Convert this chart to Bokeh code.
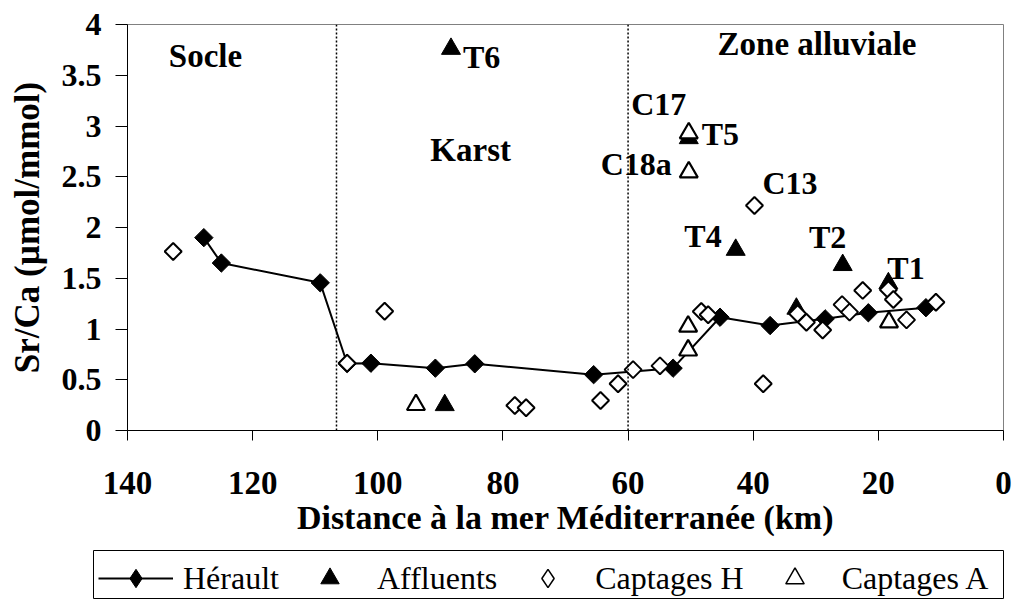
import math
from bokeh.plotting import figure
from bokeh.layouts import column, row
from bokeh.models import Range1d, FixedTicker, Span, Label, Legend, LegendItem, Spacer
from bokeh.embed import file_html
from bokeh.resources import INLINE

# ---------------- data ----------------
herault_km = [127.8, 125.0, 109.2, 104.9, 101.1, 90.8, 84.5, 65.5, 52.8, 45.3, 37.3, 28.5, 21.6, 12.4]
herault_sr = [1.90, 1.65, 1.455, 0.66, 0.663, 0.614, 0.657, 0.55, 0.614, 1.116, 1.034, 1.10, 1.16, 1.21]

affluents_km = [88.3, 89.3, 50.3, 42.8, 33.1, 25.7, 18.4]
affluents_sr = [3.76, 0.25, 2.88, 1.78, 1.20, 1.63, 1.45]

captH_km = [132.7, 104.9, 98.9, 78.1, 76.3, 64.4, 61.6, 59.2, 54.9, 48.3, 47.2, 39.8,
            38.4, 32.9, 31.5, 28.9, 25.8, 24.6, 22.5, 18.4, 17.6, 15.5, 10.8]
captH_sr = [1.764, 0.663, 1.175, 0.246, 0.224, 0.296, 0.46, 0.60, 0.637, 1.172, 1.14, 2.217,
            0.46, 1.15, 1.067, 0.99, 1.24, 1.166, 1.38, 1.386, 1.29, 1.09, 1.264]

captA_km = [93.9, 50.3, 50.3, 50.4, 50.4, 18.3]
captA_sr = [0.253, 2.93, 2.545, 1.025, 0.79, 1.067]

zone_bounds_km = [106.6, 60.0]
zone_names = ["Socle", "Karst", "Zone alluviale"]
zone_label_km = [133.4, 91.6, 45.7]
zone_label_sr = [3.69, 2.76, 3.81]

x_ticks = [140, 120, 100, 80, 60, 40, 20, 0]
y_ticks = [0, 0.5, 1, 1.5, 2, 2.5, 3, 3.5, 4]
y_tick_labels = ["0", "0.5", "1", "1.5", "2", "2.5", "3", "3.5", "4"]

x_title = "Distance à la mer Méditerranée (km)"
y_title = "Sr/Ca (µmol/mmol)"
series_names = ["Hérault", "Affluents", "Captages H", "Captages A"]

# point labels: (text, series, index, align, x_offset px, y_offset px)
point_labels = [
    ("T6", "aff", 0, "left", 12, -8),
    ("T5", "aff", 2, "left", 13, 4),
    ("T4", "aff", 3, "right", -14, 14),
    ("T2", "aff", 5, "center", -15, 28),
    ("T1", "aff", 6, "left", -1, 15),
    ("C17", "capA", 1, "center", -30, 29),
    ("C18a", "capA", 2, "right", -17, 8),
    ("C13", "capH", 11, "left", 8, 22),
]

FONT = "Liberation Serif"

# marker styles
STY_HER_LINE = dict(line_color="black", line_width=2)
STY_HER = dict(marker="square", angle=math.pi / 4, size=13, fill_color="black",
               line_color="black", line_width=1)
STY_AFF = dict(marker="triangle", size=19, fill_color="black", line_color="black", line_width=1)
STY_CAPH = dict(marker="square", angle=math.pi / 4, size=12, fill_color="white",
                line_color="black", line_width=2)
STY_CAPA = dict(marker="triangle", size=18, fill_color="white", line_color="black", line_width=2.2)

p = figure(width=1016, height=550, output_backend="svg", toolbar_location=None,
           x_range=Range1d(140, 0), y_range=Range1d(0, 4),
           min_border_left=127, min_border_right=13, min_border_top=24, min_border_bottom=120)
p.background_fill_color = "white"
p.border_fill_color = "white"
p.outline_line_color = "#808080"
p.outline_line_width = 1
p.grid.visible = False

xa = p.xaxis[0]
xa.ticker = FixedTicker(ticks=x_ticks)
xa.axis_label = x_title
xa.axis_label_text_font = FONT
xa.axis_label_text_font_style = "bold"
xa.axis_label_text_font_size = "34px"
xa.axis_label_text_color = "black"
xa.axis_label_standoff = 2
xa.major_label_text_font = FONT
xa.major_label_text_font_style = "bold"
xa.major_label_text_font_size = "33px"
xa.major_label_text_color = "black"
xa.major_label_standoff = 31
xa.major_tick_out = 10
xa.major_tick_in = 0
xa.minor_tick_out = 0
xa.minor_tick_in = 0
xa.axis_line_color = "black"
xa.major_tick_line_color = "black"

ya = p.yaxis[0]
ya.ticker = FixedTicker(ticks=y_ticks)
ya.major_label_overrides = {t: l for t, l in zip(y_ticks, y_tick_labels)}
ya.axis_label = y_title
ya.axis_label_text_font = FONT
ya.axis_label_text_font_style = "bold"
ya.axis_label_text_font_size = "35px"
ya.axis_label_text_color = "black"
ya.axis_label_standoff = 12
ya.major_label_text_font = FONT
ya.major_label_text_font_style = "bold"
ya.major_label_text_font_size = "32px"
ya.major_label_text_color = "black"
ya.major_label_standoff = 14
ya.major_tick_out = 12
ya.major_tick_in = 0
ya.minor_tick_out = 0
ya.minor_tick_in = 0
ya.axis_line_color = "black"
ya.major_tick_line_color = "black"

for b in zone_bounds_km:
    p.add_layout(Span(location=b, dimension="height", line_color="black",
                      line_width=1.5, line_dash="2 2"))

p.line(herault_km, herault_sr, **STY_HER_LINE)
p.scatter(herault_km, herault_sr, **STY_HER)
p.scatter(affluents_km, affluents_sr, **STY_AFF)
p.scatter(captH_km, captH_sr, **STY_CAPH)
p.scatter(captA_km, captA_sr, **STY_CAPA)

for name, xk, ys in zip(zone_names, zone_label_km, zone_label_sr):
    p.add_layout(Label(x=xk, y=ys, text=name, text_font=FONT, text_font_style="bold",
                       text_font_size="33px", text_color="black", text_align="left",
                       text_baseline="middle"))

series = {"aff": (affluents_km, affluents_sr), "capA": (captA_km, captA_sr),
          "capH": (captH_km, captH_sr)}
for text, s, i, align, xo, yo in point_labels:
    xs, ys = series[s]
    p.add_layout(Label(x=xs[i], y=ys[i], text=text, x_offset=xo, y_offset=yo,
                       text_font=FONT, text_font_style="bold", text_font_size="32px",
                       text_color="black", text_align=align, text_baseline="middle"))

# ---------------- legend strip (separate figure below) ----------------
lg = figure(width=923, height=49, output_backend="svg", toolbar_location=None,
            x_range=Range1d(0, 1), y_range=Range1d(0, 1), x_axis_type=None, y_axis_type=None,
            min_border_left=0, min_border_right=13, min_border_top=0, min_border_bottom=0)
lg.grid.visible = False
lg.outline_line_color = "black"
lg.outline_line_width = 1
lg.background_fill_color = "white"
lg.border_fill_color = "white"

nan = [float("nan")]
l_line = lg.line(nan, nan, **STY_HER_LINE)
l_her = lg.scatter(nan, nan, marker="diamond", fill_color="black", line_color="black")
l_aff = lg.scatter(nan, nan, marker="triangle", fill_color="black", line_color="black")
l_caph = lg.scatter(nan, nan, marker="diamond", fill_color="white", line_color="black",
                    line_width=1.5)
l_capa = lg.scatter(nan, nan, marker="triangle", fill_color="white", line_color="black",
                    line_width=1.5)

legend = Legend(items=[
    LegendItem(label=series_names[0], renderers=[l_line, l_her]),
    LegendItem(label=series_names[1], renderers=[l_aff]),
    LegendItem(label=series_names[2], renderers=[l_caph]),
    LegendItem(label=series_names[3], renderers=[l_capa]),
], orientation="horizontal", location="top_left",
    glyph_width=75, glyph_height=46, label_height=46, label_standoff=10, spacing=13,
    padding=5, margin=0, label_text_font=FONT, label_text_font_size="32px",
    label_text_color="black", border_line_alpha=0, background_fill_alpha=0)
lg.add_layout(legend)

layout = column(p, row(Spacer(width=93, height=49), lg, spacing=0), spacing=0)
open("out.html", "w").write(file_html(layout, INLINE))
